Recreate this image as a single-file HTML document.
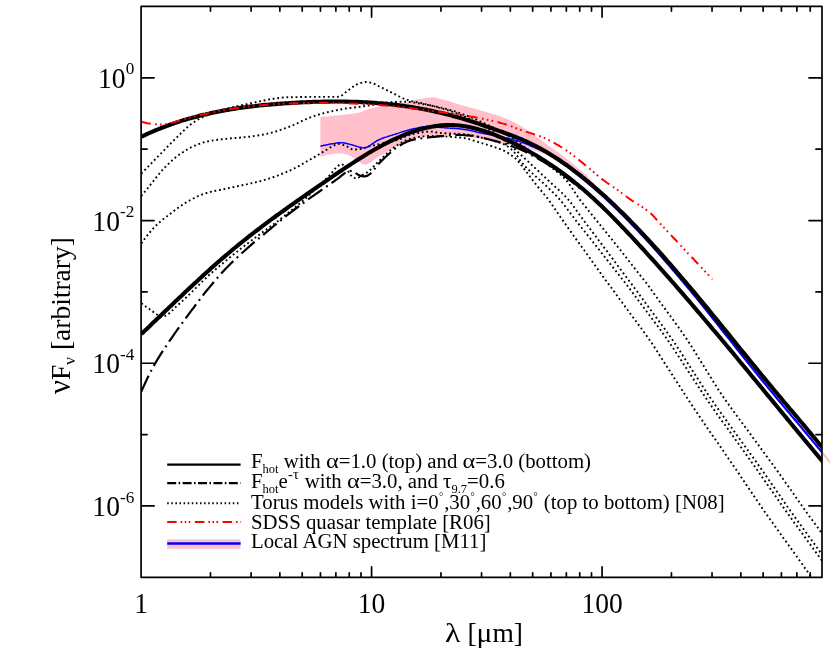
<!DOCTYPE html>
<html><head><meta charset="utf-8"><title>SED plot</title>
<style>html,body{margin:0;padding:0;background:#fff;overflow:hidden;}svg{display:block;will-change:transform;}</style>
</head><body>
<svg width="830" height="664" viewBox="0 0 830 664">
<rect x="0" y="0" width="830" height="664" fill="#fff"/>
<path d="M320.4,116.9 L322.4,116.7 L324.4,116.5 L326.4,116.4 L328.4,116.2 L330.4,116.0 L332.4,115.8 L334.4,115.6 L336.4,115.4 L338.4,115.2 L340.4,115.0 L342.5,114.8 L344.5,114.6 L346.5,114.4 L348.5,114.2 L350.5,114.0 L352.5,113.7 L354.5,113.5 L356.5,113.2 L358.5,112.8 L360.5,112.2 L362.5,111.5 L364.5,110.6 L366.5,109.8 L368.5,109.0 L370.5,108.3 L372.5,107.8 L374.5,107.4 L376.5,107.0 L378.5,106.6 L380.5,106.2 L382.5,105.9 L384.5,105.6 L386.6,105.3 L388.6,105.0 L390.6,104.7 L392.6,104.5 L394.6,104.3 L396.6,104.1 L398.6,103.9 L400.6,103.6 L402.6,103.3 L404.6,103.0 L406.6,102.6 L408.6,101.9 L410.6,101.1 L412.6,100.4 L414.6,99.8 L416.6,99.3 L418.6,99.0 L420.6,98.7 L422.6,98.4 L424.6,98.1 L426.6,97.8 L428.7,97.6 L430.7,97.4 L432.7,97.3 L434.7,97.4 L436.7,97.8 L438.7,98.4 L440.7,98.9 L442.7,99.4 L444.7,99.9 L446.7,100.5 L448.7,101.1 L450.7,101.8 L452.7,102.4 L454.7,103.1 L456.7,103.7 L458.7,104.3 L460.7,104.9 L462.7,105.5 L464.7,106.1 L466.7,106.6 L468.7,107.1 L470.8,107.7 L472.8,108.2 L474.8,108.8 L476.8,109.3 L478.8,109.9 L480.8,110.4 L482.8,111.0 L484.8,111.6 L486.8,112.2 L488.8,112.8 L490.8,113.4 L492.8,114.0 L494.8,114.6 L496.8,115.3 L498.8,115.9 L500.8,116.6 L502.8,117.4 L504.8,118.1 L506.8,118.9 L508.8,119.8 L510.8,120.7 L512.8,121.7 L514.9,122.7 L516.9,123.8 L518.9,124.9 L520.9,126.0 L522.9,127.2 L524.9,128.4 L526.9,129.7 L528.9,131.0 L530.9,132.4 L532.9,133.9 L534.9,135.4 L536.9,136.9 L538.9,138.5 L540.9,140.0 L542.9,141.5 L544.9,143.0 L546.9,144.5 L548.9,145.9 L550.9,147.3 L552.9,148.7 L554.9,150.2 L557.0,151.6 L559.0,153.1 L561.0,154.5 L563.0,156.0 L565.0,157.6 L567.0,159.1 L569.0,160.7 L571.0,162.3 L573.0,163.9 L575.0,165.5 L577.0,167.1 L579.0,168.8 L581.0,170.5 L583.0,172.2 L585.0,174.1 L587.0,175.9 L589.0,177.8 L591.0,179.9 L593.0,182.1 L595.0,184.5 L597.0,186.9 L599.0,189.4 L601.1,191.9 L603.1,194.2 L605.1,196.4 L607.1,198.3 L609.1,200.2 L611.1,202.1 L613.1,204.0 L615.1,205.9 L617.1,207.9 L619.1,209.8 L621.1,211.8 L623.1,213.8 L625.1,215.8 L627.1,217.9 L629.1,219.9 L631.1,222.0 L633.1,224.0 L635.1,226.1 L637.1,228.2 L639.1,230.4 L641.1,232.5 L643.2,234.6 L645.2,236.8 L647.2,239.0 L649.2,241.2 L651.2,243.4 L653.2,245.6 L655.2,247.9 L657.2,250.1 L659.2,252.4 L661.2,254.7 L663.2,257.0 L665.2,259.3 L667.2,261.6 L669.2,263.9 L671.2,266.3 L673.2,268.6 L675.2,271.0 L677.2,273.3 L679.2,275.7 L681.2,278.1 L683.2,280.5 L685.2,282.9 L687.3,285.3 L689.3,287.7 L691.3,290.2 L693.3,292.6 L695.3,295.0 L697.3,297.5 L699.3,300.0 L701.3,302.4 L703.3,304.9 L705.3,307.4 L707.3,309.9 L709.3,312.4 L711.3,315.0 L713.3,317.5 L715.3,320.0 L717.3,322.5 L719.3,325.0 L721.3,327.6 L723.3,330.1 L725.3,332.6 L727.3,335.1 L729.4,337.7 L731.4,340.2 L733.4,342.7 L735.4,345.3 L737.4,347.8 L739.4,350.3 L741.4,352.8 L743.4,355.4 L745.4,357.9 L747.4,360.4 L749.4,362.9 L751.4,365.4 L753.4,367.9 L755.4,370.4 L757.4,372.8 L759.4,375.3 L761.4,377.8 L763.4,380.3 L765.4,382.7 L767.4,385.2 L769.4,387.6 L771.5,390.1 L773.5,392.5 L775.5,395.0 L777.5,397.4 L779.5,399.8 L781.5,402.1 L783.5,404.5 L785.5,406.9 L787.5,409.3 L789.5,411.7 L791.5,414.1 L793.5,416.5 L795.5,418.8 L797.5,421.2 L799.5,423.6 L801.5,426.0 L803.5,428.4 L805.5,430.8 L807.5,433.2 L809.5,435.6 L811.5,438.0 L813.5,440.4 L815.6,442.8 L817.6,445.3 L819.6,447.7 L821.6,450.1 L823.6,452.6 L825.6,455.0 L827.6,457.5 L829.6,459.9 L831.6,462.4 L833.6,464.9 L835.6,467.4 L835.6,470.8 L833.6,468.3 L831.6,465.8 L829.6,463.3 L827.6,460.9 L825.6,458.4 L823.6,456.0 L821.6,453.5 L819.6,451.1 L817.6,448.7 L815.6,446.2 L813.5,443.8 L811.5,441.4 L809.5,439.0 L807.5,436.6 L805.5,434.2 L803.5,431.8 L801.5,429.4 L799.5,427.0 L797.5,424.6 L795.5,422.2 L793.5,419.9 L791.5,417.5 L789.5,415.1 L787.5,412.7 L785.5,410.3 L783.5,407.9 L781.5,405.5 L779.5,403.2 L777.5,400.8 L775.5,398.4 L773.5,395.9 L771.5,393.5 L769.4,391.0 L767.4,388.6 L765.4,386.1 L763.4,383.7 L761.4,381.2 L759.4,378.7 L757.4,376.2 L755.4,373.8 L753.4,371.3 L751.4,368.8 L749.4,366.3 L747.4,363.8 L745.4,361.3 L743.4,358.8 L741.4,356.2 L739.4,353.7 L737.4,351.2 L735.4,348.7 L733.4,346.1 L731.4,343.6 L729.4,341.1 L727.3,338.5 L725.3,336.0 L723.3,333.5 L721.3,331.0 L719.3,328.4 L717.3,325.9 L715.3,323.4 L713.3,320.9 L711.3,318.4 L709.3,315.8 L707.3,313.3 L705.3,310.8 L703.3,308.3 L701.3,305.8 L699.3,303.4 L697.3,300.9 L695.3,298.4 L693.3,296.0 L691.3,293.6 L689.3,291.1 L687.3,288.7 L685.2,286.3 L683.2,283.9 L681.2,281.5 L679.2,279.1 L677.2,276.7 L675.2,274.4 L673.2,272.0 L671.2,269.7 L669.2,267.3 L667.2,265.0 L665.2,262.7 L663.2,260.4 L661.2,258.1 L659.2,255.8 L657.2,253.5 L655.2,251.3 L653.2,249.0 L651.2,246.8 L649.2,244.6 L647.2,242.4 L645.2,240.2 L643.2,238.0 L641.1,235.9 L639.1,233.8 L637.1,231.6 L635.1,229.5 L633.1,227.4 L631.1,225.4 L629.1,223.3 L627.1,221.3 L625.1,219.2 L623.1,217.2 L621.1,215.2 L619.1,213.2 L617.1,211.3 L615.1,209.3 L613.1,207.4 L611.1,205.5 L609.1,203.6 L607.1,201.7 L605.1,199.8 L603.1,198.0 L601.1,196.2 L599.0,194.4 L597.0,192.6 L595.0,190.8 L593.0,189.1 L591.0,187.3 L589.0,185.6 L587.0,183.9 L585.0,182.3 L583.0,180.6 L581.0,179.0 L579.0,177.4 L577.0,175.8 L575.0,174.3 L573.0,172.7 L571.0,171.2 L569.0,169.7 L567.0,168.2 L565.0,166.8 L563.0,165.4 L561.0,164.0 L559.0,162.6 L557.0,161.3 L554.9,159.9 L552.9,158.6 L550.9,157.3 L548.9,156.1 L546.9,155.2 L544.9,154.3 L542.9,153.5 L540.9,152.7 L538.9,151.9 L536.9,151.2 L534.9,150.5 L532.9,149.7 L530.9,148.9 L528.9,148.1 L526.9,147.5 L524.9,147.0 L522.9,146.6 L520.9,146.3 L518.9,146.0 L516.9,145.8 L514.9,145.5 L512.8,145.2 L510.8,144.9 L508.8,144.6 L506.8,144.3 L504.8,144.0 L502.8,143.6 L500.8,143.3 L498.8,142.9 L496.8,142.6 L494.8,142.2 L492.8,141.7 L490.8,141.3 L488.8,140.8 L486.8,140.3 L484.8,139.8 L482.8,139.4 L480.8,139.0 L478.8,138.6 L476.8,138.3 L474.8,137.9 L472.8,137.6 L470.8,137.3 L468.7,137.0 L466.7,136.7 L464.7,136.4 L462.7,136.1 L460.7,135.9 L458.7,135.6 L456.7,135.3 L454.7,135.1 L452.7,134.9 L450.7,134.8 L448.7,134.8 L446.7,134.8 L444.7,134.9 L442.7,135.0 L440.7,135.1 L438.7,135.2 L436.7,135.4 L434.7,135.5 L432.7,135.7 L430.7,135.9 L428.7,136.1 L426.6,136.3 L424.6,136.5 L422.6,136.8 L420.6,137.1 L418.6,137.5 L416.6,138.0 L414.6,138.5 L412.6,139.0 L410.6,139.6 L408.6,140.3 L406.6,141.1 L404.6,142.0 L402.6,142.9 L400.6,144.0 L398.6,145.0 L396.6,146.1 L394.6,147.2 L392.6,148.4 L390.6,149.7 L388.6,151.1 L386.6,152.3 L384.5,153.6 L382.5,154.7 L380.5,155.8 L378.5,156.9 L376.5,158.0 L374.5,159.3 L372.5,161.0 L370.5,162.5 L368.5,163.6 L366.5,164.5 L364.5,164.8 L362.5,164.1 L360.5,162.7 L358.5,161.3 L356.5,160.0 L354.5,158.6 L352.5,157.2 L350.5,156.1 L348.5,155.2 L346.5,154.4 L344.5,153.9 L342.5,153.6 L340.4,153.4 L338.4,153.3 L336.4,153.4 L334.4,153.7 L332.4,154.1 L330.4,154.4 L328.4,154.8 L326.4,155.2 L324.4,155.7 L322.4,156.3 L320.4,156.9Z" fill="#ffc0cb"/>
<clipPath id="cp"><rect x="141.1" y="6.45" width="680.9" height="570.9"/></clipPath>
<g clip-path="url(#cp)" fill="none" stroke-linejoin="round">
<path d="M141.3,173.7 L143.3,171.6 L145.3,169.5 L147.3,167.5 L149.3,165.4 L151.3,163.3 L153.3,161.3 L155.3,159.2 L157.3,157.1 L159.3,155.1 L161.3,153.1 L163.3,151.0 L165.3,149.0 L167.3,146.9 L169.3,144.9 L171.3,142.8 L173.3,140.8 L175.3,138.8 L177.3,136.9 L179.3,134.9 L181.3,133.0 L183.3,131.0 L185.3,129.1 L187.3,127.2 L189.3,125.5 L191.3,123.9 L193.3,122.5 L195.3,121.2 L197.3,120.0 L199.3,118.8 L201.3,117.8 L203.3,116.8 L205.3,115.9 L207.3,115.1 L209.3,114.3 L211.3,113.6 L213.3,112.9 L215.3,112.2 L217.3,111.6 L219.3,110.9 L221.3,110.3 L223.3,109.7 L225.3,109.2 L227.3,108.6 L229.3,108.1 L231.3,107.6 L233.3,107.1 L235.3,106.6 L237.3,106.1 L239.3,105.7 L241.3,105.2 L243.3,104.8 L245.3,104.4 L247.3,104.0 L249.3,103.5 L251.3,103.1 L253.3,102.7 L255.3,102.3 L257.3,101.8 L259.3,101.4 L261.3,101.0 L263.3,100.6 L265.3,100.2 L267.3,99.8 L269.3,99.4 L271.3,99.1 L273.3,98.8 L275.3,98.5 L277.3,98.2 L279.3,97.9 L281.3,97.7 L283.3,97.5 L285.3,97.4 L287.3,97.3 L289.3,97.2 L291.3,97.2 L293.3,97.1 L295.3,97.1 L297.3,97.1 L299.3,97.1 L301.3,97.0 L303.3,97.0 L305.3,97.0 L307.3,97.0 L309.3,96.9 L311.3,96.9 L313.3,96.9 L315.3,96.9 L317.3,96.9 L319.3,96.9 L321.3,96.9 L323.3,96.9 L325.3,96.9 L327.3,96.9 L329.3,96.9 L331.3,96.9 L333.3,96.9 L335.3,96.9 L337.3,96.9 L339.3,96.7 L341.3,95.8 L343.3,94.3 L345.3,92.6 L347.3,90.9 L349.3,89.6 L351.3,88.1 L353.3,86.6 L355.3,85.2 L357.3,84.2 L359.3,83.4 L361.3,82.8 L363.3,82.2 L365.3,81.9 L367.3,82.0 L369.3,82.3 L371.3,82.8 L373.3,83.5 L375.3,84.4 L377.3,85.5 L379.3,86.5 L381.3,87.4 L383.3,88.4 L385.3,89.4 L387.3,90.4 L389.3,91.4 L391.3,92.4 L393.3,93.4 L395.3,94.4 L397.3,95.4 L399.3,96.5 L401.3,97.5 L403.3,98.5 L405.3,99.4 L407.3,100.0 L409.3,100.6 L411.3,101.1 L413.3,101.5 L415.3,101.9 L417.3,102.3 L419.3,102.7 L421.3,103.1 L423.3,103.6 L425.3,104.1 L427.3,104.6 L429.3,105.1 L431.3,105.6 L433.3,106.1 L435.3,106.7 L437.3,107.2 L439.3,107.8 L441.3,108.3 L443.3,108.9 L445.3,109.5 L447.3,110.1 L449.3,110.8 L451.3,111.4 L453.3,112.1 L455.3,112.9 L457.3,113.6 L459.3,114.4 L461.3,115.2 L463.3,116.0 L465.3,116.9 L467.3,117.8 L469.3,118.7 L471.3,119.6 L473.3,120.6 L475.3,121.6 L477.3,122.6 L479.3,123.7 L481.3,124.8 L483.3,125.9 L485.3,127.1 L487.3,128.3 L489.3,129.6 L491.3,130.8 L493.3,132.2 L495.3,133.6 L497.3,135.0 L499.3,136.6 L501.3,138.1 L503.3,139.7 L505.3,141.2 L507.3,142.9 L509.3,144.5 L511.3,146.3 L513.3,148.0 L515.3,149.8 L517.3,151.6 L519.3,153.4 L521.3,155.2 L523.3,157.0 L525.3,158.9 L527.3,160.7 L529.3,162.6 L531.3,164.5 L533.3,166.4 L535.3,168.3 L537.3,170.1 L539.3,172.0 L541.3,173.9 L543.3,175.7 L545.3,177.6 L547.3,179.5 L549.3,181.3 L551.3,183.2 L553.3,185.1 L555.3,186.9 L557.3,188.7 L559.3,190.5 L561.3,192.3 L563.3,194.3 L565.3,196.3 L567.3,198.4 L569.3,200.7 L571.3,203.3 L573.3,206.1 L575.3,208.9 L577.3,211.7 L579.3,214.4 L581.3,217.1 L583.3,219.8 L585.3,222.5 L587.3,225.2 L589.3,227.8 L591.3,230.5 L593.3,233.1 L595.3,235.7 L597.3,238.4 L599.3,241.1 L601.3,243.7 L603.3,246.4 L605.3,249.1 L607.3,251.7 L609.3,254.4 L611.3,257.1 L613.3,259.7 L615.3,262.4 L617.3,265.1 L619.3,267.7 L621.3,270.4 L623.3,273.1 L625.3,275.7 L627.3,278.4 L629.3,281.1 L631.3,283.7 L633.3,286.4 L635.3,289.1 L637.3,291.8 L639.3,294.5 L641.3,297.2 L643.3,299.9 L645.3,302.7 L647.3,305.4 L649.3,308.1 L651.3,310.8 L653.3,313.5 L655.3,316.2 L657.3,318.9 L659.3,321.6 L661.3,324.3 L663.3,327.0 L665.3,329.8 L667.3,332.6 L669.3,335.4 L671.3,338.2 L673.3,341.1 L675.3,344.0 L677.3,347.0 L679.3,350.1 L681.3,353.2 L683.3,356.3 L685.3,359.4 L687.3,362.5 L689.3,365.7 L691.3,368.8 L693.3,371.9 L695.3,374.9 L697.3,378.0 L699.3,381.1 L701.3,384.2 L703.3,387.3 L705.3,390.3 L707.3,393.3 L709.3,396.3 L711.3,399.2 L713.3,402.1 L715.3,405.0 L717.3,407.8 L719.3,410.7 L721.3,413.5 L723.3,416.3 L725.3,419.1 L727.3,421.9 L729.3,424.7 L731.3,427.4 L733.3,430.2 L735.3,433.0 L737.3,435.7 L739.3,438.5 L741.3,441.2 L743.3,444.0 L745.3,446.7 L747.3,449.5 L749.3,452.3 L751.3,455.1 L753.3,457.8 L755.3,460.6 L757.3,463.4 L759.3,466.2 L761.3,469.1 L763.3,471.9 L765.3,474.7 L767.3,477.6 L769.3,480.5 L771.3,483.4 L773.3,486.3 L775.3,489.2 L777.3,492.1 L779.3,494.9 L781.3,497.8 L783.3,500.7 L785.3,503.6 L787.3,506.5 L789.3,509.3 L791.3,512.1 L793.3,514.9 L795.3,517.7 L797.3,520.4 L799.3,523.2 L801.3,525.9 L803.3,528.7 L805.3,531.4 L807.3,534.2 L809.3,537.0 L811.3,539.7 L813.3,542.5 L815.3,545.2 L817.3,548.0 L819.3,550.8 L821.3,553.6 L823.3,556.4 L825.3,559.2 L827.3,561.9 L829.3,564.7 L831.3,567.5 L833.3,570.2 L835.3,573.0 L837.3,575.7 L839.3,578.5 L841.3,581.2 L843.3,584.0" stroke="#000" stroke-width="1.9" stroke-dasharray="1.8 2.8"/>
<path d="M141.3,196.0 L143.3,193.6 L145.3,191.1 L147.3,188.7 L149.3,186.2 L151.3,183.7 L153.3,181.2 L155.3,178.6 L157.3,176.1 L159.3,173.6 L161.3,171.2 L163.3,169.0 L165.4,166.9 L167.4,164.9 L169.4,163.0 L171.4,161.1 L173.4,159.3 L175.4,157.6 L177.4,156.1 L179.4,154.6 L181.4,153.2 L183.4,151.9 L185.4,150.6 L187.4,149.4 L189.4,148.3 L191.4,147.2 L193.4,146.3 L195.4,145.5 L197.4,144.6 L199.4,143.8 L201.4,143.1 L203.4,142.5 L205.4,141.9 L207.4,141.5 L209.4,141.1 L211.4,140.7 L213.5,140.4 L215.5,140.1 L217.5,139.8 L219.5,139.6 L221.5,139.3 L223.5,139.1 L225.5,138.9 L227.5,138.7 L229.5,138.5 L231.5,138.3 L233.5,138.2 L235.5,138.0 L237.5,137.8 L239.5,137.7 L241.5,137.5 L243.5,137.3 L245.5,137.1 L247.5,136.9 L249.5,136.7 L251.5,136.4 L253.5,136.1 L255.5,135.8 L257.5,135.5 L259.5,135.2 L261.6,134.9 L263.6,134.5 L265.6,134.1 L267.6,133.6 L269.6,133.2 L271.6,132.6 L273.6,132.1 L275.6,131.5 L277.6,130.9 L279.6,130.2 L281.6,129.5 L283.6,128.8 L285.6,128.1 L287.6,127.4 L289.6,126.6 L291.6,125.9 L293.6,125.0 L295.6,124.1 L297.6,123.2 L299.6,122.2 L301.6,121.2 L303.6,120.2 L305.6,119.3 L307.6,118.5 L309.7,117.7 L311.7,116.9 L313.7,116.2 L315.7,115.5 L317.7,114.9 L319.7,114.3 L321.7,113.7 L323.7,113.2 L325.7,112.7 L327.7,112.2 L329.7,111.7 L331.7,111.3 L333.7,110.8 L335.7,110.4 L337.7,110.0 L339.7,109.6 L341.7,109.2 L343.7,108.8 L345.7,108.5 L347.7,108.3 L349.7,108.0 L351.7,107.8 L353.7,107.6 L355.7,107.3 L357.8,107.1 L359.8,106.8 L361.8,106.5 L363.8,106.2 L365.8,105.9 L367.8,105.7 L369.8,105.3 L371.8,105.0 L373.8,104.7 L375.8,104.3 L377.8,103.8 L379.8,103.4 L381.8,103.0 L383.8,102.7 L385.8,102.5 L387.8,102.4 L389.8,102.3 L391.8,102.2 L393.8,102.1 L395.8,102.0 L397.8,101.9 L399.8,101.9 L401.8,101.8 L403.8,101.8 L405.9,101.8 L407.9,101.9 L409.9,102.0 L411.9,102.2 L413.9,102.5 L415.9,102.8 L417.9,103.2 L419.9,103.6 L421.9,103.9 L423.9,104.3 L425.9,104.7 L427.9,105.0 L429.9,105.4 L431.9,105.8 L433.9,106.2 L435.9,106.6 L437.9,107.0 L439.9,107.5 L441.9,107.9 L443.9,108.4 L445.9,108.9 L447.9,109.4 L449.9,110.0 L451.9,110.6 L454.0,111.2 L456.0,111.8 L458.0,112.5 L460.0,113.2 L462.0,113.9 L464.0,114.7 L466.0,115.4 L468.0,116.2 L470.0,117.0 L472.0,117.8 L474.0,118.6 L476.0,119.5 L478.0,120.4 L480.0,121.3 L482.0,122.2 L484.0,123.1 L486.0,124.1 L488.0,125.0 L490.0,126.0 L492.0,127.0 L494.0,128.0 L496.0,129.1 L498.0,130.1 L500.1,131.2 L502.1,132.3 L504.1,133.5 L506.1,134.6 L508.1,135.8 L510.1,137.0 L512.1,138.3 L514.1,139.6 L516.1,141.0 L518.1,142.4 L520.1,143.8 L522.1,145.2 L524.1,146.7 L526.1,148.1 L528.1,149.6 L530.1,151.1 L532.1,152.6 L534.1,154.1 L536.1,155.6 L538.1,157.1 L540.1,158.6 L542.1,160.2 L544.1,161.8 L546.1,163.3 L548.2,164.9 L550.2,166.5 L552.2,168.1 L554.2,169.7 L556.2,171.2 L558.2,172.8 L560.2,174.4 L562.2,176.1 L564.2,178.0 L566.2,180.1 L568.2,182.6 L570.2,185.4 L572.2,188.3 L574.2,191.4 L576.2,194.5 L578.2,197.4 L580.2,200.2 L582.2,202.7 L584.2,205.2 L586.2,207.7 L588.2,210.2 L590.2,212.7 L592.2,215.2 L594.2,217.7 L596.3,220.2 L598.3,222.7 L600.3,225.2 L602.3,227.6 L604.3,230.1 L606.3,232.5 L608.3,235.0 L610.3,237.5 L612.3,240.0 L614.3,242.5 L616.3,245.0 L618.3,247.5 L620.3,250.0 L622.3,252.5 L624.3,255.1 L626.3,257.6 L628.3,260.2 L630.3,262.7 L632.3,265.3 L634.3,267.8 L636.3,270.4 L638.3,272.9 L640.3,275.5 L642.3,278.0 L644.4,280.6 L646.4,283.1 L648.4,285.8 L650.4,288.6 L652.4,291.4 L654.4,294.2 L656.4,296.9 L658.4,299.7 L660.4,302.5 L662.4,305.2 L664.4,308.0 L666.4,310.7 L668.4,313.5 L670.4,316.2 L672.4,318.9 L674.4,321.7 L676.4,324.4 L678.4,327.1 L680.4,329.9 L682.4,332.8 L684.4,335.7 L686.4,338.6 L688.4,341.6 L690.4,344.7 L692.5,347.9 L694.5,351.2 L696.5,354.5 L698.5,357.7 L700.5,360.9 L702.5,364.1 L704.5,367.3 L706.5,370.6 L708.5,373.8 L710.5,377.1 L712.5,380.3 L714.5,383.5 L716.5,386.7 L718.5,389.9 L720.5,392.9 L722.5,395.8 L724.5,398.7 L726.5,401.5 L728.5,404.3 L730.5,407.1 L732.5,409.9 L734.5,412.6 L736.5,415.4 L738.5,418.1 L740.6,420.9 L742.6,423.6 L744.6,426.3 L746.6,429.0 L748.6,431.7 L750.6,434.4 L752.6,437.1 L754.6,439.8 L756.6,442.6 L758.6,445.3 L760.6,448.0 L762.6,450.8 L764.6,453.5 L766.6,456.2 L768.6,459.0 L770.6,461.7 L772.6,464.4 L774.6,467.2 L776.6,469.9 L778.6,472.7 L780.6,475.5 L782.6,478.3 L784.6,481.2 L786.6,484.1 L788.7,486.9 L790.7,489.8 L792.7,492.7 L794.7,495.5 L796.7,498.4 L798.7,501.2 L800.7,504.1 L802.7,506.9 L804.7,509.8 L806.7,512.5 L808.7,515.3 L810.7,518.0 L812.7,520.7 L814.7,523.5 L816.7,526.2 L818.7,528.9 L820.7,531.7 L822.7,534.4 L824.7,537.1 L826.7,539.9 L828.7,542.7 L830.7,545.4 L832.7,548.2 L834.7,551.0 L836.8,553.7 L838.8,556.5 L840.8,559.3 L842.8,562.0 L844.8,564.7 L846.8,567.5 L848.8,570.2 L850.8,572.9 L852.8,575.7 L854.8,578.5 L856.8,581.2 L858.8,584.0" stroke="#000" stroke-width="1.9" stroke-dasharray="1.8 2.8"/>
<path d="M141.3,243.5 L143.3,240.7 L145.3,238.0 L147.3,235.4 L149.3,232.9 L151.3,230.6 L153.3,228.3 L155.3,226.3 L157.3,224.3 L159.3,222.5 L161.3,220.8 L163.3,219.1 L165.4,217.5 L167.4,216.0 L169.4,214.4 L171.4,212.9 L173.4,211.3 L175.4,209.8 L177.4,208.3 L179.4,206.9 L181.4,205.5 L183.4,204.1 L185.4,202.9 L187.4,201.7 L189.4,200.6 L191.4,199.5 L193.4,198.5 L195.4,197.5 L197.4,196.5 L199.4,195.6 L201.4,194.8 L203.4,194.0 L205.4,193.3 L207.4,192.7 L209.4,192.1 L211.5,191.6 L213.5,191.2 L215.5,190.8 L217.5,190.4 L219.5,190.0 L221.5,189.6 L223.5,189.2 L225.5,188.8 L227.5,188.4 L229.5,187.9 L231.5,187.5 L233.5,187.1 L235.5,186.7 L237.5,186.3 L239.5,185.9 L241.5,185.4 L243.5,185.0 L245.5,184.5 L247.5,184.1 L249.5,183.6 L251.5,183.2 L253.5,182.7 L255.5,182.3 L257.6,181.8 L259.6,181.3 L261.6,180.8 L263.6,180.2 L265.6,179.6 L267.6,179.0 L269.6,178.4 L271.6,177.7 L273.6,177.0 L275.6,176.3 L277.6,175.6 L279.6,174.8 L281.6,174.0 L283.6,173.2 L285.6,172.4 L287.6,171.5 L289.6,170.7 L291.6,169.8 L293.6,168.8 L295.6,167.7 L297.6,166.7 L299.6,165.6 L301.6,164.4 L303.6,163.3 L305.7,162.1 L307.7,160.9 L309.7,159.8 L311.7,158.6 L313.7,157.5 L315.7,156.3 L317.7,155.1 L319.7,153.9 L321.7,152.7 L323.7,151.5 L325.7,150.3 L327.7,149.0 L329.7,147.8 L331.7,146.6 L333.7,145.6 L335.7,144.8 L337.7,144.0 L339.7,143.9 L341.7,144.4 L343.7,145.1 L345.7,145.9 L347.7,146.8 L349.7,148.1 L351.8,149.2 L353.8,149.6 L355.8,149.5 L357.8,149.3 L359.8,149.0 L361.8,148.7 L363.8,148.1 L365.8,147.3 L367.8,146.7 L369.8,146.2 L371.8,145.7 L373.8,145.3 L375.8,144.8 L377.8,144.4 L379.8,144.0 L381.8,143.5 L383.8,143.1 L385.8,142.7 L387.8,142.3 L389.8,141.9 L391.8,141.4 L393.8,141.0 L395.8,140.4 L397.9,139.8 L399.9,139.1 L401.9,138.2 L403.9,137.3 L405.9,136.4 L407.9,135.6 L409.9,134.9 L411.9,134.3 L413.9,133.9 L415.9,133.4 L417.9,133.0 L419.9,132.6 L421.9,132.2 L423.9,131.9 L425.9,131.7 L427.9,131.6 L429.9,131.5 L431.9,131.6 L433.9,131.9 L435.9,132.3 L437.9,132.7 L439.9,133.0 L441.9,133.1 L444.0,133.2 L446.0,133.3 L448.0,133.4 L450.0,133.5 L452.0,133.5 L454.0,133.6 L456.0,133.7 L458.0,133.8 L460.0,133.9 L462.0,134.0 L464.0,134.2 L466.0,134.5 L468.0,134.8 L470.0,135.1 L472.0,135.5 L474.0,135.9 L476.0,136.3 L478.0,136.8 L480.0,137.2 L482.0,137.7 L484.0,138.1 L486.0,138.7 L488.0,139.2 L490.1,139.8 L492.1,140.4 L494.1,141.0 L496.1,141.6 L498.1,142.2 L500.1,142.8 L502.1,143.5 L504.1,144.4 L506.1,145.4 L508.1,146.7 L510.1,148.3 L512.1,150.1 L514.1,152.1 L516.1,154.3 L518.1,157.3 L520.1,160.4 L522.1,163.0 L524.1,165.2 L526.1,167.3 L528.1,169.3 L530.1,171.2 L532.1,173.1 L534.1,175.0 L536.1,176.8 L538.2,178.6 L540.2,180.4 L542.2,182.2 L544.2,184.0 L546.2,185.9 L548.2,187.8 L550.2,189.7 L552.2,191.7 L554.2,193.6 L556.2,195.7 L558.2,197.8 L560.2,200.0 L562.2,202.4 L564.2,205.0 L566.2,207.6 L568.2,210.3 L570.2,212.9 L572.2,215.6 L574.2,218.2 L576.2,220.8 L578.2,223.4 L580.2,226.0 L582.2,228.5 L584.3,231.0 L586.3,233.6 L588.3,236.1 L590.3,238.6 L592.3,241.1 L594.3,243.7 L596.3,246.2 L598.3,248.7 L600.3,251.3 L602.3,253.8 L604.3,256.3 L606.3,258.9 L608.3,261.4 L610.3,264.0 L612.3,266.5 L614.3,269.1 L616.3,271.6 L618.3,274.2 L620.3,276.7 L622.3,279.2 L624.3,281.7 L626.3,284.3 L628.3,287.0 L630.4,289.7 L632.4,292.4 L634.4,295.1 L636.4,297.8 L638.4,300.5 L640.4,303.2 L642.4,305.8 L644.4,308.5 L646.4,311.2 L648.4,313.9 L650.4,316.5 L652.4,319.2 L654.4,321.9 L656.4,324.5 L658.4,327.2 L660.4,329.8 L662.4,332.6 L664.4,335.4 L666.4,338.2 L668.4,341.1 L670.4,344.1 L672.4,347.0 L674.4,350.1 L676.5,353.2 L678.5,356.2 L680.5,359.3 L682.5,362.4 L684.5,365.5 L686.5,368.6 L688.5,371.6 L690.5,374.7 L692.5,377.7 L694.5,380.7 L696.5,383.8 L698.5,386.9 L700.5,389.9 L702.5,392.9 L704.5,395.9 L706.5,398.9 L708.5,401.8 L710.5,404.8 L712.5,407.6 L714.5,410.4 L716.5,413.3 L718.5,416.1 L720.5,418.9 L722.5,421.7 L724.6,424.5 L726.6,427.2 L728.6,430.0 L730.6,432.8 L732.6,435.6 L734.6,438.4 L736.6,441.2 L738.6,444.0 L740.6,446.7 L742.6,449.5 L744.6,452.3 L746.6,455.1 L748.6,457.9 L750.6,460.8 L752.6,463.6 L754.6,466.4 L756.6,469.2 L758.6,472.1 L760.6,474.9 L762.6,477.8 L764.6,480.6 L766.6,483.5 L768.6,486.3 L770.7,489.2 L772.7,492.1 L774.7,495.0 L776.7,497.9 L778.7,500.8 L780.7,503.7 L782.7,506.5 L784.7,509.3 L786.7,512.1 L788.7,514.9 L790.7,517.7 L792.7,520.4 L794.7,523.2 L796.7,525.9 L798.7,528.7 L800.7,531.4 L802.7,534.1 L804.7,536.9 L806.7,539.6 L808.7,542.4 L810.7,545.1 L812.7,547.9 L814.7,550.7 L816.8,553.5 L818.8,556.3 L820.8,559.1 L822.8,561.9 L824.8,564.7 L826.8,567.4 L828.8,570.2 L830.8,572.9 L832.8,575.7 L834.8,578.5 L836.8,581.2 L838.8,584.0" stroke="#000" stroke-width="1.9" stroke-dasharray="1.8 2.8"/>
<path d="M141.3,303.3 L143.3,304.7 L145.3,306.2 L147.3,307.6 L149.3,309.0 L151.3,310.5 L153.3,311.9 L155.3,313.4 L157.3,314.7 L159.3,316.2 L161.3,317.0 L163.3,316.7 L165.3,315.8 L167.3,314.8 L169.3,313.2 L171.3,311.4 L173.3,309.4 L175.4,307.4 L177.4,305.6 L179.4,303.7 L181.4,301.9 L183.4,300.1 L185.4,298.2 L187.4,296.3 L189.4,294.4 L191.4,292.4 L193.4,290.4 L195.4,288.4 L197.4,286.4 L199.4,284.4 L201.4,282.4 L203.4,280.4 L205.4,278.5 L207.4,276.6 L209.4,274.8 L211.4,273.0 L213.4,271.3 L215.4,269.5 L217.4,267.8 L219.4,266.1 L221.4,264.4 L223.4,262.8 L225.4,261.1 L227.4,259.5 L229.4,257.8 L231.4,256.2 L233.4,254.6 L235.4,252.9 L237.4,251.4 L239.4,249.8 L241.4,248.2 L243.5,246.6 L245.5,245.1 L247.5,243.6 L249.5,242.0 L251.5,240.5 L253.5,239.0 L255.5,237.5 L257.5,236.1 L259.5,234.6 L261.5,233.1 L263.5,231.6 L265.5,230.1 L267.5,228.7 L269.5,227.2 L271.5,225.8 L273.5,224.3 L275.5,222.9 L277.5,221.4 L279.5,219.9 L281.5,218.3 L283.5,216.7 L285.5,215.1 L287.5,213.5 L289.5,211.9 L291.5,210.3 L293.5,208.6 L295.5,207.0 L297.5,205.4 L299.5,203.7 L301.5,202.0 L303.5,200.3 L305.5,198.5 L307.5,196.7 L309.5,194.8 L311.6,192.8 L313.6,190.7 L315.6,188.8 L317.6,186.8 L319.6,184.9 L321.6,183.0 L323.6,181.1 L325.6,179.3 L327.6,177.4 L329.6,175.4 L331.6,173.0 L333.6,170.5 L335.6,168.1 L337.6,166.1 L339.6,164.7 L341.6,164.1 L343.6,165.1 L345.6,167.7 L347.6,170.5 L349.6,173.5 L351.6,176.5 L353.6,177.8 L355.6,178.1 L357.6,178.2 L359.6,177.0 L361.6,175.3 L363.6,174.3 L365.6,173.3 L367.6,172.1 L369.6,170.5 L371.6,168.6 L373.6,166.5 L375.6,164.3 L377.7,162.4 L379.7,160.4 L381.7,158.4 L383.7,156.5 L385.7,154.6 L387.7,152.8 L389.7,151.0 L391.7,149.3 L393.7,147.6 L395.7,146.2 L397.7,144.9 L399.7,143.7 L401.7,142.5 L403.7,141.4 L405.7,140.4 L407.7,139.6 L409.7,138.9 L411.7,138.4 L413.7,138.0 L415.7,137.6 L417.7,137.2 L419.7,136.9 L421.7,136.6 L423.7,136.4 L425.7,136.2 L427.7,136.0 L429.7,136.0 L431.7,136.0 L433.7,136.1 L435.7,136.1 L437.7,136.2 L439.7,136.3 L441.7,136.4 L443.7,136.5 L445.8,136.5 L447.8,136.6 L449.8,136.8 L451.8,136.9 L453.8,137.0 L455.8,137.2 L457.8,137.3 L459.8,137.5 L461.8,137.7 L463.8,138.0 L465.8,138.4 L467.8,138.8 L469.8,139.4 L471.8,140.0 L473.8,140.6 L475.8,141.3 L477.8,141.9 L479.8,142.6 L481.8,143.2 L483.8,143.8 L485.8,144.4 L487.8,145.0 L489.8,145.6 L491.8,146.2 L493.8,146.9 L495.8,147.6 L497.8,148.3 L499.8,149.0 L501.8,149.8 L503.8,150.7 L505.8,151.7 L507.8,152.9 L509.8,154.2 L511.8,155.6 L513.9,157.2 L515.9,158.9 L517.9,160.9 L519.9,163.3 L521.9,165.9 L523.9,168.6 L525.9,171.2 L527.9,173.8 L529.9,176.5 L531.9,179.1 L533.9,181.7 L535.9,184.3 L537.9,186.8 L539.9,189.2 L541.9,191.6 L543.9,194.0 L545.9,196.4 L547.9,198.9 L549.9,201.6 L551.9,204.5 L553.9,207.5 L555.9,210.4 L557.9,213.3 L559.9,216.2 L561.9,219.1 L563.9,221.9 L565.9,224.8 L567.9,227.6 L569.9,230.4 L571.9,233.2 L573.9,236.1 L575.9,238.9 L577.9,241.7 L579.9,244.4 L582.0,247.2 L584.0,250.0 L586.0,252.8 L588.0,255.6 L590.0,258.4 L592.0,261.2 L594.0,264.0 L596.0,266.8 L598.0,269.6 L600.0,272.4 L602.0,275.1 L604.0,277.9 L606.0,280.6 L608.0,283.3 L610.0,286.0 L612.0,288.7 L614.0,291.4 L616.0,294.1 L618.0,296.8 L620.0,299.6 L622.0,302.3 L624.0,305.0 L626.0,307.8 L628.0,310.5 L630.0,313.2 L632.0,315.9 L634.0,318.6 L636.0,321.3 L638.0,324.0 L640.0,326.7 L642.0,329.4 L644.0,332.2 L646.0,335.0 L648.1,337.8 L650.1,340.7 L652.1,343.6 L654.1,346.6 L656.1,349.7 L658.1,352.8 L660.1,356.0 L662.1,359.1 L664.1,362.2 L666.1,365.3 L668.1,368.4 L670.1,371.5 L672.1,374.6 L674.1,377.7 L676.1,380.8 L678.1,383.9 L680.1,387.0 L682.1,390.1 L684.1,393.2 L686.1,396.3 L688.1,399.4 L690.1,402.5 L692.1,405.5 L694.1,408.5 L696.1,411.5 L698.1,414.4 L700.1,417.4 L702.1,420.3 L704.1,423.2 L706.1,426.2 L708.1,429.1 L710.1,432.0 L712.1,434.9 L714.1,437.8 L716.2,440.7 L718.2,443.5 L720.2,446.4 L722.2,449.3 L724.2,452.2 L726.2,455.2 L728.2,458.1 L730.2,461.0 L732.2,464.0 L734.2,466.9 L736.2,469.8 L738.2,472.7 L740.2,475.7 L742.2,478.6 L744.2,481.6 L746.2,484.6 L748.2,487.6 L750.2,490.5 L752.2,493.4 L754.2,496.4 L756.2,499.3 L758.2,502.2 L760.2,505.2 L762.2,508.1 L764.2,511.0 L766.2,513.9 L768.2,516.7 L770.2,519.5 L772.2,522.2 L774.2,525.0 L776.2,527.9 L778.2,530.7 L780.2,533.5 L782.2,536.4 L784.3,539.2 L786.3,541.9 L788.3,544.7 L790.3,547.5 L792.3,550.3 L794.3,553.1 L796.3,555.9 L798.3,558.7 L800.3,561.5 L802.3,564.3 L804.3,567.2 L806.3,570.0 L808.3,572.8 L810.3,575.6 L812.3,578.4 L814.3,581.2 L816.3,584.0" stroke="#000" stroke-width="1.9" stroke-dasharray="1.8 2.8"/>
<path d="M320.4,146.3 L322.4,145.8 L324.4,145.3 L326.4,144.9 L328.4,144.5 L330.4,144.1 L332.4,143.7 L334.4,143.4 L336.4,143.0 L338.4,142.8 L340.4,142.7 L342.5,142.8 L344.5,143.1 L346.5,143.5 L348.5,143.9 L350.5,144.5 L352.5,145.0 L354.5,145.6 L356.5,146.3 L358.5,146.9 L360.5,147.3 L362.5,147.7 L364.5,147.9 L366.5,147.5 L368.5,146.3 L370.5,145.1 L372.5,143.7 L374.5,142.3 L376.5,141.0 L378.5,140.0 L380.5,139.1 L382.5,138.3 L384.5,137.5 L386.6,136.9 L388.6,136.2 L390.6,135.6 L392.6,135.0 L394.6,134.4 L396.6,133.7 L398.6,133.1 L400.6,132.4 L402.6,131.8 L404.6,131.2 L406.6,130.6 L408.6,130.0 L410.6,129.5 L412.6,129.1 L414.6,128.6 L416.6,128.2 L418.6,127.7 L420.6,127.3 L422.6,127.0 L424.6,126.7 L426.6,126.5 L428.7,126.3 L430.7,126.3 L432.7,126.4 L434.7,126.7 L436.7,127.0 L438.7,127.3 L440.7,127.5 L442.7,127.6 L444.7,127.8 L446.7,127.9 L448.7,128.1 L450.7,128.2 L452.7,128.3 L454.7,128.5 L456.7,128.6 L458.7,128.8 L460.7,129.0 L462.7,129.2 L464.7,129.5 L466.7,129.8 L468.7,130.2 L470.8,130.6 L472.8,131.1 L474.8,131.5 L476.8,132.0 L478.8,132.4 L480.8,132.9 L482.8,133.3 L484.8,133.7 L486.8,134.1 L488.8,134.4 L490.8,134.8 L492.8,135.2 L494.8,135.6 L496.8,136.0 L498.8,136.4 L500.8,136.8 L502.8,137.2 L504.8,137.7 L506.8,138.1 L508.8,138.6 L510.8,139.1 L512.8,139.6 L514.9,140.2 L516.9,140.8 L518.9,141.4 L520.9,142.1 L522.9,142.7 L524.9,143.4 L526.9,144.2 L528.9,144.9 L530.9,145.7" stroke="#0000ff" stroke-width="1.5"/>
<path d="M528.9,144.9 L530.9,145.7 L532.9,146.5 L534.9,147.4 L536.9,148.2 L538.9,149.1 L540.9,150.1 L542.9,151.0 L544.9,152.0 L546.9,153.1 L548.9,154.4 L550.9,155.7 L552.9,156.9 L554.9,158.2 L557.0,159.6 L559.0,160.9 L561.0,162.3 L563.0,163.7 L565.0,165.1 L567.0,166.5 L569.0,168.0 L571.0,169.5 L573.0,171.0 L575.0,172.6 L577.0,174.1 L579.0,175.7 L581.0,177.3 L583.0,178.9 L585.0,180.6 L587.0,182.2 L589.0,183.9 L591.0,185.6 L593.0,187.4 L595.0,189.1 L597.0,190.9 L599.0,192.7 L601.1,194.5 L603.1,196.3 L605.1,198.1 L607.1,200.0 L609.1,201.9 L611.1,203.8 L613.1,205.7 L615.1,207.6 L617.1,209.6 L619.1,211.5 L621.1,213.5 L623.1,215.5 L625.1,217.5 L627.1,219.6 L629.1,221.6 L631.1,223.7 L633.1,225.7 L635.1,227.8 L637.1,229.9 L639.1,232.1 L641.1,234.2 L643.2,236.3 L645.2,238.5 L647.2,240.7 L649.2,242.9 L651.2,245.1 L653.2,247.3 L655.2,249.6 L657.2,251.8 L659.2,254.1 L661.2,256.4 L663.2,258.7 L665.2,261.0 L667.2,263.3 L669.2,265.6 L671.2,268.0 L673.2,270.3 L675.2,272.7 L677.2,275.0 L679.2,277.4 L681.2,279.8 L683.2,282.2 L685.2,284.6 L687.3,287.0 L689.3,289.4 L691.3,291.9 L693.3,294.3 L695.3,296.7 L697.3,299.2 L699.3,301.7 L701.3,304.1 L703.3,306.6 L705.3,309.1 L707.3,311.6 L709.3,314.1 L711.3,316.7 L713.3,319.2 L715.3,321.7 L717.3,324.2 L719.3,326.7 L721.3,329.3 L723.3,331.8 L725.3,334.3 L727.3,336.8 L729.4,339.4 L731.4,341.9 L733.4,344.4 L735.4,347.0 L737.4,349.5 L739.4,352.0 L741.4,354.5 L743.4,357.1 L745.4,359.6 L747.4,362.1 L749.4,364.6 L751.4,367.1 L753.4,369.6 L755.4,372.1 L757.4,374.5 L759.4,377.0 L761.4,379.5 L763.4,382.0 L765.4,384.4 L767.4,386.9 L769.4,389.3 L771.5,391.8 L773.5,394.2 L775.5,396.7 L777.5,399.1 L779.5,401.5 L781.5,403.8 L783.5,406.2 L785.5,408.6 L787.5,411.0 L789.5,413.4 L791.5,415.8 L793.5,418.2 L795.5,420.5 L797.5,422.9 L799.5,425.3 L801.5,427.7 L803.5,430.1 L805.5,432.5 L807.5,434.9 L809.5,437.3 L811.5,439.7 L813.5,442.1 L815.6,444.5 L817.6,447.0 L819.6,449.4 L821.6,451.8 L823.6,454.3 L825.6,456.7 L827.6,459.2 L829.6,461.6 L831.6,464.1 L833.6,466.6 L835.6,469.1" stroke="#0000ff" stroke-width="2.1"/>
<path d="M141.3,136.7 L143.3,135.8 L145.3,134.8 L147.3,133.9 L149.3,133.0 L151.3,132.2 L153.3,131.3 L155.3,130.4 L157.3,129.6 L159.3,128.8 L161.3,128.0 L163.3,127.2 L165.3,126.5 L167.3,125.7 L169.3,125.0 L171.3,124.3 L173.3,123.6 L175.3,122.9 L177.3,122.2 L179.3,121.6 L181.3,120.9 L183.3,120.3 L185.3,119.7 L187.3,119.1 L189.3,118.5 L191.4,118.0 L193.4,117.4 L195.4,116.9 L197.4,116.4 L199.4,115.8 L201.4,115.3 L203.4,114.8 L205.4,114.4 L207.4,113.9 L209.4,113.5 L211.4,113.0 L213.4,112.6 L215.4,112.2 L217.4,111.8 L219.4,111.4 L221.4,111.0 L223.4,110.6 L225.4,110.3 L227.4,109.9 L229.4,109.6 L231.4,109.2 L233.4,108.9 L235.4,108.6 L237.4,108.3 L239.4,108.0 L241.4,107.7 L243.4,107.4 L245.4,107.2 L247.4,106.9 L249.4,106.7 L251.4,106.4 L253.4,106.2 L255.4,106.0 L257.4,105.7 L259.4,105.5 L261.4,105.3 L263.4,105.1 L265.4,104.9 L267.4,104.7 L269.4,104.6 L271.4,104.4 L273.4,104.2 L275.4,104.1 L277.4,103.9 L279.4,103.8 L281.4,103.6 L283.4,103.5 L285.4,103.3 L287.4,103.2 L289.4,103.1 L291.5,103.0 L293.5,102.8 L295.5,102.7 L297.5,102.6 L299.5,102.5 L301.5,102.4 L303.5,102.3 L305.5,102.2 L307.5,102.1 L309.5,102.1 L311.5,102.0 L313.5,101.9 L315.5,101.8 L317.5,101.8 L319.5,101.7 L321.5,101.7 L323.5,101.6 L325.5,101.6 L327.5,101.6 L329.5,101.6 L331.5,101.5 L333.5,101.5 L335.5,101.5 L337.5,101.5 L339.5,101.5 L341.5,101.5 L343.5,101.6 L345.5,101.6 L347.5,101.6 L349.5,101.7 L351.5,101.7 L353.5,101.8 L355.5,101.8 L357.5,101.9 L359.5,102.0 L361.5,102.1 L363.5,102.2 L365.5,102.3 L367.5,102.4 L369.5,102.5 L371.5,102.6 L373.5,102.8 L375.5,102.9 L377.5,103.1 L379.5,103.2 L381.5,103.4 L383.5,103.6 L385.5,103.8 L387.5,104.0 L389.5,104.2 L391.6,104.4 L393.6,104.6 L395.6,104.9 L397.6,105.1 L399.6,105.4 L401.6,105.6 L403.6,105.9 L405.6,106.2 L407.6,106.5 L409.6,106.8 L411.6,107.1 L413.6,107.4 L415.6,107.8 L417.6,108.1 L419.6,108.5 L421.6,108.8 L423.6,109.2 L425.6,109.6 L427.6,110.0 L429.6,110.4 L431.6,110.8 L433.6,111.3 L435.6,111.7 L437.6,112.2 L439.6,112.6 L441.6,113.1 L443.6,113.6 L445.6,114.1 L447.6,114.6 L449.6,115.1 L451.6,115.6 L453.6,116.2 L455.6,116.7 L457.6,117.3 L459.6,117.8 L461.6,118.4 L463.6,119.0 L465.6,119.6 L467.6,120.2 L469.6,120.9 L471.6,121.5 L473.6,122.1 L475.6,122.8 L477.6,123.4 L479.6,124.1 L481.6,124.8 L483.6,125.5 L485.6,126.2 L487.6,126.8 L489.6,127.5 L491.7,128.2 L493.7,129.0 L495.7,129.7 L497.7,130.4 L499.7,131.1 L501.7,131.8 L503.7,132.5 L505.7,133.3 L507.7,134.0 L509.7,134.7 L511.7,135.4 L513.7,136.2 L515.7,137.0 L517.7,137.8 L519.7,138.6 L521.7,139.4 L523.7,140.3 L525.7,141.1 L527.7,142.1 L529.7,143.0 L531.7,144.0 L533.7,145.0 L535.7,146.0 L537.7,147.1 L539.7,148.1 L541.7,149.2 L543.7,150.4 L545.7,151.5 L547.7,152.7 L549.7,153.9 L551.7,155.2 L553.7,156.4 L555.7,157.7 L557.7,159.0 L559.7,160.3 L561.7,161.7 L563.7,163.1 L565.7,164.5 L567.7,165.9 L569.7,167.4 L571.7,168.8 L573.7,170.3 L575.7,171.9 L577.7,173.4 L579.7,175.0 L581.7,176.5 L583.7,178.1 L585.7,179.8 L587.7,181.4 L589.7,183.1 L591.8,184.8 L593.8,186.5 L595.8,188.2 L597.8,189.9 L599.8,191.7 L601.8,193.5 L603.8,195.3 L605.8,197.1 L607.8,199.0 L609.8,200.8 L611.8,202.7 L613.8,204.6 L615.8,206.5 L617.8,208.4 L619.8,210.4 L621.8,212.3 L623.8,214.3 L625.8,216.3 L627.8,218.3 L629.8,220.3 L631.8,222.4 L633.8,224.4 L635.8,226.5 L637.8,228.6 L639.8,230.7 L641.8,232.8 L643.8,234.9 L645.8,237.1 L647.8,239.2 L649.8,241.4 L651.8,243.6 L653.8,245.8 L655.8,248.0 L657.8,250.2 L659.8,252.4 L661.8,254.7 L663.8,256.9 L665.8,259.2 L667.8,261.5 L669.8,263.7 L671.8,266.0 L673.8,268.4 L675.8,270.7 L677.8,273.0 L679.8,275.3 L681.8,277.7 L683.8,280.0 L685.8,282.4 L687.8,284.8 L689.8,287.1 L691.9,289.5 L693.9,291.9 L695.9,294.3 L697.9,296.7 L699.9,299.2 L701.9,301.6 L703.9,304.0 L705.9,306.4 L707.9,308.9 L709.9,311.3 L711.9,313.7 L713.9,316.2 L715.9,318.6 L717.9,321.1 L719.9,323.6 L721.9,326.0 L723.9,328.5 L725.9,330.9 L727.9,333.4 L729.9,335.9 L731.9,338.3 L733.9,340.8 L735.9,343.3 L737.9,345.7 L739.9,348.2 L741.9,350.7 L743.9,353.1 L745.9,355.6 L747.9,358.1 L749.9,360.5 L751.9,363.0 L753.9,365.4 L755.9,367.9 L757.9,370.3 L759.9,372.8 L761.9,375.2 L763.9,377.6 L765.9,380.0 L767.9,382.5 L769.9,384.9 L771.9,387.3 L773.9,389.7 L775.9,392.1 L777.9,394.5 L779.9,396.9 L781.9,399.3 L783.9,401.7 L785.9,404.0 L787.9,406.4 L789.9,408.8 L792.0,411.2 L794.0,413.5 L796.0,415.9 L798.0,418.3 L800.0,420.7 L802.0,423.0 L804.0,425.4 L806.0,427.8 L808.0,430.2 L810.0,432.6 L812.0,435.0 L814.0,437.4 L816.0,439.8 L818.0,442.2 L820.0,444.6 L822.0,447.0 L824.0,449.4 L826.0,451.8 L828.0,454.3 L830.0,456.7 L832.0,459.2 L834.0,461.7 L836.0,464.1 L838.0,466.6 L840.0,469.1" stroke="#000" stroke-width="4.1"/>
<path d="M141.3,334.1 L143.3,332.2 L145.3,330.3 L147.3,328.4 L149.3,326.5 L151.3,324.5 L153.3,322.6 L155.3,320.7 L157.3,318.8 L159.3,316.9 L161.3,315.0 L163.3,313.0 L165.3,311.1 L167.3,309.2 L169.3,307.3 L171.3,305.4 L173.3,303.5 L175.3,301.6 L177.3,299.7 L179.3,297.8 L181.3,295.9 L183.3,294.0 L185.3,292.1 L187.3,290.2 L189.3,288.3 L191.3,286.4 L193.3,284.6 L195.3,282.7 L197.3,280.9 L199.3,279.0 L201.3,277.2 L203.3,275.3 L205.3,273.5 L207.3,271.7 L209.3,269.9 L211.3,268.1 L213.3,266.3 L215.3,264.6 L217.3,262.8 L219.3,261.0 L221.3,259.3 L223.3,257.6 L225.3,255.9 L227.3,254.2 L229.3,252.5 L231.3,250.8 L233.3,249.1 L235.3,247.5 L237.3,245.8 L239.3,244.2 L241.3,242.6 L243.3,241.0 L245.3,239.4 L247.3,237.8 L249.3,236.2 L251.3,234.6 L253.3,233.1 L255.3,231.5 L257.4,230.0 L259.4,228.5 L261.4,226.9 L263.4,225.4 L265.4,223.9 L267.4,222.4 L269.4,220.9 L271.4,219.4 L273.4,218.0 L275.4,216.5 L277.4,215.0 L279.4,213.6 L281.4,212.1 L283.4,210.7 L285.4,209.3 L287.4,207.8 L289.4,206.4 L291.4,205.0 L293.4,203.6 L295.4,202.2 L297.4,200.8 L299.4,199.4 L301.4,198.0 L303.4,196.6 L305.4,195.2 L307.4,193.8 L309.4,192.4 L311.4,191.0 L313.4,189.6 L315.4,188.3 L317.4,186.9 L319.4,185.5 L321.4,184.1 L323.4,182.8 L325.4,181.4 L327.4,180.0 L329.4,178.6 L331.4,177.3 L333.4,175.9 L335.4,174.5 L337.4,173.2 L339.4,171.8 L341.4,170.5 L343.4,169.1 L345.4,167.8 L347.4,166.5 L349.4,165.2 L351.4,163.9 L353.4,162.6 L355.4,161.3 L357.4,160.0 L359.4,158.7 L361.4,157.5 L363.4,156.2 L365.4,155.0 L367.4,153.8 L369.4,152.6 L371.4,151.4 L373.4,150.3 L375.4,149.1 L377.4,148.0 L379.4,146.9 L381.4,145.8 L383.4,144.7 L385.4,143.7 L387.4,142.7 L389.4,141.6 L391.4,140.7 L393.4,139.7 L395.4,138.8 L397.4,137.9 L399.4,137.0 L401.4,136.1 L403.4,135.3 L405.4,134.5 L407.4,133.7 L409.4,132.9 L411.4,132.2 L413.4,131.5 L415.4,130.9 L417.4,130.2 L419.4,129.6 L421.4,129.1 L423.4,128.5 L425.4,128.1 L427.4,127.6 L429.4,127.2 L431.4,126.8 L433.4,126.4 L435.4,126.1 L437.4,125.8 L439.4,125.6 L441.4,125.4 L443.4,125.2 L445.4,125.1 L447.4,125.1 L449.4,125.0 L451.4,125.0 L453.4,125.1 L455.4,125.2 L457.4,125.3 L459.4,125.5 L461.4,125.7 L463.4,126.0 L465.4,126.3 L467.4,126.7 L469.4,127.1 L471.4,127.5 L473.4,128.0 L475.4,128.5 L477.4,129.0 L479.4,129.6 L481.4,130.2 L483.4,130.8 L485.4,131.5 L487.5,132.2 L489.5,132.9 L491.5,133.6 L493.5,134.4 L495.5,135.2 L497.5,136.0 L499.5,136.8 L501.5,137.7 L503.5,138.5 L505.5,139.4 L507.5,140.3 L509.5,141.3 L511.5,142.2 L513.5,143.2 L515.5,144.2 L517.5,145.2 L519.5,146.2 L521.5,147.2 L523.5,148.3 L525.5,149.4 L527.5,150.5 L529.5,151.6 L531.5,152.8 L533.5,153.9 L535.5,155.1 L537.5,156.3 L539.5,157.5 L541.5,158.8 L543.5,160.0 L545.5,161.3 L547.5,162.6 L549.5,163.9 L551.5,165.2 L553.5,166.6 L555.5,168.0 L557.5,169.4 L559.5,170.8 L561.5,172.2 L563.5,173.7 L565.5,175.2 L567.5,176.7 L569.5,178.2 L571.5,179.8 L573.5,181.4 L575.5,183.0 L577.5,184.6 L579.5,186.3 L581.5,187.9 L583.5,189.6 L585.5,191.4 L587.5,193.1 L589.5,194.9 L591.5,196.7 L593.5,198.5 L595.5,200.4 L597.5,202.3 L599.5,204.2 L601.5,206.1 L603.5,208.0 L605.5,209.9 L607.5,211.9 L609.5,213.9 L611.5,215.9 L613.5,217.9 L615.5,220.0 L617.5,222.0 L619.5,224.1 L621.5,226.2 L623.5,228.2 L625.5,230.3 L627.5,232.5 L629.5,234.6 L631.5,236.7 L633.5,238.8 L635.5,241.0 L637.5,243.2 L639.5,245.3 L641.5,247.5 L643.5,249.7 L645.5,251.9 L647.5,254.1 L649.5,256.3 L651.5,258.5 L653.5,260.7 L655.5,262.9 L657.5,265.1 L659.5,267.4 L661.5,269.6 L663.5,271.9 L665.5,274.1 L667.5,276.4 L669.5,278.7 L671.5,281.0 L673.5,283.2 L675.5,285.5 L677.5,287.8 L679.5,290.1 L681.5,292.4 L683.5,294.7 L685.5,297.1 L687.5,299.4 L689.5,301.7 L691.5,304.0 L693.5,306.4 L695.5,308.7 L697.5,311.1 L699.5,313.4 L701.5,315.8 L703.5,318.1 L705.5,320.5 L707.5,322.9 L709.5,325.2 L711.5,327.6 L713.5,330.0 L715.6,332.4 L717.6,334.8 L719.6,337.1 L721.6,339.5 L723.6,341.9 L725.6,344.3 L727.6,346.7 L729.6,349.1 L731.6,351.5 L733.6,353.9 L735.6,356.3 L737.6,358.8 L739.6,361.2 L741.6,363.6 L743.6,366.0 L745.6,368.4 L747.6,370.8 L749.6,373.3 L751.6,375.7 L753.6,378.1 L755.6,380.5 L757.6,383.0 L759.6,385.4 L761.6,387.8 L763.6,390.2 L765.6,392.7 L767.6,395.1 L769.6,397.5 L771.6,399.9 L773.6,402.4 L775.6,404.8 L777.6,407.2 L779.6,409.7 L781.6,412.1 L783.6,414.5 L785.6,416.9 L787.6,419.4 L789.6,421.8 L791.6,424.2 L793.6,426.6 L795.6,429.0 L797.6,431.5 L799.6,433.9 L801.6,436.3 L803.6,438.7 L805.6,441.1 L807.6,443.5 L809.6,445.9 L811.6,448.3 L813.6,450.7 L815.6,453.1 L817.6,455.5 L819.6,457.9 L821.6,460.3 L823.6,462.7 L825.6,465.0 L827.6,467.4 L829.6,469.8" stroke="#000" stroke-width="4.1"/>
<path d="M141.3,391.6 L143.3,387.1 L145.3,382.7 L147.3,378.4 L149.3,374.3 L151.3,370.4 L153.3,366.6 L155.4,363.0 L157.4,359.6 L159.4,356.3 L161.4,353.2 L163.4,350.1 L165.4,347.1 L167.4,344.2 L169.4,341.2 L171.4,338.3 L173.4,335.4 L175.4,332.5 L177.4,329.7 L179.4,326.9 L181.5,324.1 L183.5,321.3 L185.5,318.6 L187.5,315.8 L189.5,313.1 L191.5,310.4 L193.5,307.8 L195.5,305.1 L197.5,302.5 L199.5,299.8 L201.5,297.2 L203.5,294.6 L205.5,292.0 L207.6,289.5 L209.6,287.1 L211.6,284.7 L213.6,282.3 L215.6,279.9 L217.6,277.6 L219.6,275.3 L221.6,273.1 L223.6,270.9 L225.6,268.8 L227.6,266.7 L229.6,264.7 L231.6,262.7 L233.7,260.8 L235.7,258.9 L237.7,257.0 L239.7,255.1 L241.7,253.3 L243.7,251.5 L245.7,249.7 L247.7,247.9 L249.7,246.2 L251.7,244.4 L253.7,242.7 L255.7,241.0 L257.7,239.3 L259.8,237.7 L261.8,236.0 L263.8,234.3 L265.8,232.7 L267.8,231.0 L269.8,229.3 L271.8,227.7 L273.8,226.0 L275.8,224.4 L277.8,222.7 L279.8,221.1 L281.8,219.5 L283.8,217.8 L285.9,216.2 L287.9,214.7 L289.9,213.1 L291.9,211.5 L293.9,210.0 L295.9,208.5 L297.9,207.0 L299.9,205.5 L301.9,204.0 L303.9,202.5 L305.9,201.0 L307.9,199.6 L309.9,198.1 L312.0,196.7 L314.0,195.3 L316.0,193.9 L318.0,192.5 L320.0,191.1 L322.0,189.7 L324.0,188.3 L326.0,186.9 L328.0,185.5 L330.0,184.1 L332.0,182.7 L334.0,181.3 L336.0,179.8 L338.1,178.4 L340.1,176.9 L342.1,175.2 L344.1,173.6 L346.1,172.2 L348.1,171.5 L350.1,171.0 L352.1,170.8 L354.1,171.8 L356.1,173.4 L358.1,174.7 L360.1,175.7 L362.2,176.1 L364.2,176.4 L366.2,176.2 L368.2,175.2 L370.2,173.9 L372.2,172.1 L374.2,169.4 L376.2,166.6 L378.2,164.4 L380.2,162.3 L382.2,160.2 L384.2,158.2 L386.2,156.3 L388.3,154.5 L390.3,152.7 L392.3,150.9 L394.3,149.2 L396.3,147.8 L398.3,146.5 L400.3,145.2 L402.3,144.0 L404.3,142.9 L406.3,141.9 L408.3,141.1 L410.3,140.4 L412.3,139.9 L414.4,139.5 L416.4,139.1 L418.4,138.8 L420.4,138.5 L422.4,138.2 L424.4,138.0 L426.4,137.7 L428.4,137.5 L430.4,137.2 L432.4,137.0 L434.4,136.8 L436.4,136.6 L438.4,136.4 L440.5,136.2 L442.5,136.0 L444.5,135.8 L446.5,135.6 L448.5,135.4 L450.5,135.3 L452.5,135.1 L454.5,135.0 L456.5,134.9 L458.5,134.9 L460.5,135.0 L462.5,135.0 L464.5,135.2 L466.6,135.3 L468.6,135.5 L470.6,135.7 L472.6,135.9 L474.6,136.2 L476.6,136.5 L478.6,136.9 L480.6,137.3 L482.6,137.8 L484.6,138.2 L486.6,138.8 L488.6,139.3 L490.6,139.8 L492.7,140.4 L494.7,140.9 L496.7,141.4 L498.7,142.0 L500.7,142.6 L502.7,143.2 L504.7,143.8 L506.7,144.4 L508.7,145.1 L510.7,145.8 L512.7,146.4 L514.7,147.2 L516.7,147.9 L518.8,148.7 L520.8,149.5 L522.8,150.5 L524.8,151.4 L526.8,152.5 L528.8,153.6 L530.8,154.7 L532.8,155.8 L534.8,156.9 L536.8,158.0 L538.8,159.1 L540.8,160.2 L542.8,161.4 L544.9,162.6 L546.9,163.8 L548.9,165.1 L550.9,166.4 L552.9,167.7 L554.9,169.1 L556.9,170.5 L558.9,172.0 L560.9,173.4 L562.9,174.9 L564.9,176.4 L566.9,177.9 L568.9,179.5 L571.0,181.0 L573.0,182.6 L575.0,184.3 L577.0,185.9 L579.0,187.6 L581.0,189.3 L583.0,191.0" stroke="#000" stroke-width="2.2" stroke-dasharray="17.5 4.6 1.9 4.6"/>
<path d="M141.3,121.6 L143.3,122.2 L145.3,122.7 L147.3,123.2 L149.3,123.5 L151.3,123.8 L153.3,124.1 L155.3,124.2 L157.3,124.3 L159.3,124.4 L161.3,124.4 L163.3,124.4 L165.4,124.3 L167.4,124.0 L169.4,123.5 L171.4,122.9 L173.4,122.4 L175.4,121.8 L177.4,121.1 L179.4,120.5 L181.4,119.8 L183.4,119.2 L185.4,118.6 L187.4,118.1 L189.4,117.6 L191.4,117.0 L193.4,116.6 L195.4,116.1 L197.4,115.6 L199.4,115.1 L201.4,114.7 L203.4,114.2 L205.4,113.8 L207.4,113.4 L209.4,113.0 L211.4,112.6 L213.5,112.2 L215.5,111.8 L217.5,111.4 L219.5,111.0 L221.5,110.7 L223.5,110.3 L225.5,109.9 L227.5,109.6 L229.5,109.2 L231.5,108.9 L233.5,108.6 L235.5,108.2 L237.5,107.9 L239.5,107.7 L241.5,107.4 L243.5,107.1 L245.5,106.9 L247.5,106.7 L249.5,106.5 L251.5,106.3 L253.5,106.1 L255.5,105.9 L257.5,105.7 L259.5,105.5 L261.6,105.3 L263.6,105.1 L265.6,104.9 L267.6,104.7 L269.6,104.5 L271.6,104.4 L273.6,104.2 L275.6,104.1 L277.6,104.0 L279.6,103.8 L281.6,103.7 L283.6,103.6 L285.6,103.5 L287.6,103.5 L289.6,103.4 L291.6,103.4 L293.6,103.3 L295.6,103.3 L297.6,103.2 L299.6,103.2 L301.6,103.1 L303.6,103.1 L305.6,103.0 L307.6,103.0 L309.7,103.0 L311.7,102.9 L313.7,102.9 L315.7,102.9 L317.7,102.9 L319.7,102.8 L321.7,102.8 L323.7,102.8 L325.7,102.8 L327.7,102.8 L329.7,102.8 L331.7,102.8 L333.7,102.8 L335.7,102.9 L337.7,102.9 L339.7,103.0 L341.7,103.1 L343.7,103.1 L345.7,103.2 L347.7,103.3 L349.7,103.4 L351.7,103.5 L353.7,103.6 L355.8,103.7 L357.8,103.8 L359.8,103.9 L361.8,104.0 L363.8,104.1 L365.8,104.2 L367.8,104.3 L369.8,104.5 L371.8,104.6 L373.8,104.7 L375.8,104.8 L377.8,105.0 L379.8,105.1 L381.8,105.2 L383.8,105.4 L385.8,105.6 L387.8,105.7 L389.8,105.9 L391.8,106.1 L393.8,106.2 L395.8,106.4 L397.8,106.6 L399.8,106.8 L401.8,107.0 L403.9,107.2 L405.9,107.4 L407.9,107.7 L409.9,107.9 L411.9,108.2 L413.9,108.4 L415.9,108.7 L417.9,109.0 L419.9,109.3 L421.9,109.5 L423.9,109.8 L425.9,110.1 L427.9,110.4 L429.9,110.6 L431.9,110.9 L433.9,111.2 L435.9,111.5 L437.9,111.7 L439.9,112.0 L441.9,112.3 L443.9,112.6 L445.9,112.9 L447.9,113.1 L449.9,113.4 L452.0,113.7 L454.0,114.0 L456.0,114.2 L458.0,114.5 L460.0,114.8 L462.0,115.1 L464.0,115.4 L466.0,115.7 L468.0,116.0 L470.0,116.4 L472.0,116.7 L474.0,117.1 L476.0,117.4 L478.0,117.8 L480.0,118.2 L482.0,118.6 L484.0,119.0 L486.0,119.5 L488.0,119.9 L490.0,120.3 L492.0,120.8 L494.0,121.3 L496.0,121.8 L498.0,122.3 L500.1,122.8 L502.1,123.4 L504.1,123.9 L506.1,124.5 L508.1,125.2 L510.1,125.9 L512.1,126.6 L514.1,127.4 L516.1,128.2 L518.1,129.0 L520.1,129.7 L522.1,130.4 L524.1,131.1 L526.1,131.8 L528.1,132.4 L530.1,133.0 L532.1,133.6 L534.1,134.3 L536.1,134.9 L538.1,135.6 L540.1,136.3 L542.1,137.1 L544.1,137.9 L546.2,138.8 L548.2,139.8 L550.2,140.8 L552.2,141.8 L554.2,142.9 L556.2,144.1 L558.2,145.2 L560.2,146.5 L562.2,147.7 L564.2,149.0 L566.2,150.3 L568.2,151.6 L570.2,153.1 L572.2,154.6 L574.2,156.1 L576.2,157.7 L578.2,159.3 L580.2,160.9 L582.2,162.6 L584.2,164.2 L586.2,165.9 L588.2,167.6 L590.2,169.2 L592.2,170.9 L594.3,172.6 L596.3,174.4 L598.3,176.1 L600.3,177.8 L602.3,179.4 L604.3,180.8 L606.3,182.3 L608.3,183.7 L610.3,185.0 L612.3,186.4 L614.3,187.7 L616.3,189.1 L618.3,190.5 L620.3,192.0 L622.3,193.5 L624.3,195.0 L626.3,196.5 L628.3,198.0 L630.3,199.4 L632.3,200.8 L634.3,202.0 L636.3,203.3 L638.3,204.5 L640.3,205.8 L642.4,207.1 L644.4,208.5 L646.4,209.9 L648.4,211.4 L650.4,213.0 L652.4,215.0 L654.4,217.2 L656.4,219.5 L658.4,221.7 L660.4,223.8 L662.4,226.0 L664.4,228.1 L666.4,230.2 L668.4,232.4 L670.4,234.5 L672.4,236.7 L674.4,238.8 L676.4,240.9 L678.4,243.1 L680.4,245.2 L682.4,247.4 L684.4,249.5 L686.4,251.6 L688.4,253.8 L690.5,255.9 L692.5,258.0 L694.5,260.2 L696.5,262.3 L698.5,264.4 L700.5,266.6 L702.5,268.7 L704.5,270.8 L706.5,273.0 L708.5,275.1 L710.5,277.2 L712.5,279.3" stroke="#ff0000" stroke-width="2.0" stroke-dasharray="9.7 4.4 1.7 3.2 1.7 3.2 1.7 4.4"/>
</g>
<g stroke="#000" stroke-width="1.7" fill="none" stroke-linecap="round" stroke-linejoin="round">
<rect x="141.1" y="6.45" width="680.9" height="570.9"/>
<path d="M210.48,576.95v-4.199999999999999 M210.48,6.8500000000000005v4.199999999999999 M251.07,576.95v-4.199999999999999 M251.07,6.8500000000000005v4.199999999999999 M279.86,576.95v-4.199999999999999 M279.86,6.8500000000000005v4.199999999999999 M302.20,576.95v-4.199999999999999 M302.20,6.8500000000000005v4.199999999999999 M320.45,576.95v-4.199999999999999 M320.45,6.8500000000000005v4.199999999999999 M335.88,576.95v-4.199999999999999 M335.88,6.8500000000000005v4.199999999999999 M349.24,576.95v-4.199999999999999 M349.24,6.8500000000000005v4.199999999999999 M361.03,576.95v-4.199999999999999 M361.03,6.8500000000000005v4.199999999999999 M371.58,576.95v-10.2 M371.58,6.8500000000000005v10.2 M440.96,576.95v-4.199999999999999 M440.96,6.8500000000000005v4.199999999999999 M481.55,576.95v-4.199999999999999 M481.55,6.8500000000000005v4.199999999999999 M510.34,576.95v-4.199999999999999 M510.34,6.8500000000000005v4.199999999999999 M532.68,576.95v-4.199999999999999 M532.68,6.8500000000000005v4.199999999999999 M550.93,576.95v-4.199999999999999 M550.93,6.8500000000000005v4.199999999999999 M566.36,576.95v-4.199999999999999 M566.36,6.8500000000000005v4.199999999999999 M579.72,576.95v-4.199999999999999 M579.72,6.8500000000000005v4.199999999999999 M591.51,576.95v-4.199999999999999 M591.51,6.8500000000000005v4.199999999999999 M602.06,576.95v-10.2 M602.06,6.8500000000000005v10.2 M671.44,576.95v-4.199999999999999 M671.44,6.8500000000000005v4.199999999999999 M712.03,576.95v-4.199999999999999 M712.03,6.8500000000000005v4.199999999999999 M740.82,576.95v-4.199999999999999 M740.82,6.8500000000000005v4.199999999999999 M763.16,576.95v-4.199999999999999 M763.16,6.8500000000000005v4.199999999999999 M781.41,576.95v-4.199999999999999 M781.41,6.8500000000000005v4.199999999999999 M796.84,576.95v-4.199999999999999 M796.84,6.8500000000000005v4.199999999999999 M810.20,576.95v-4.199999999999999 M810.20,6.8500000000000005v4.199999999999999 M141.5,505.97h12.6 M821.6,505.97h-12.6 M141.5,434.61h5.6 M821.6,434.61h-5.6 M141.5,363.25h12.6 M821.6,363.25h-12.6 M141.5,291.89h5.6 M821.6,291.89h-5.6 M141.5,220.53h12.6 M821.6,220.53h-12.6 M141.5,149.17h5.6 M821.6,149.17h-5.6 M141.5,77.81h12.6 M821.6,77.81h-12.6"/>
</g>
<g font-family="Liberation Serif, serif" fill="#000" font-size="29.3">
<text x="134.4" y="74.4" text-anchor="end" font-size="17.2">0</text>
<text transform="translate(125.6,87.8) scale(0.94,1)" text-anchor="end">10</text>
<text x="134.4" y="217.1" text-anchor="end" font-size="17.2">-2</text>
<text transform="translate(119.9,230.5) scale(0.94,1)" text-anchor="end">10</text>
<text x="134.4" y="359.9" text-anchor="end" font-size="17.2">-4</text>
<text transform="translate(119.9,373.2) scale(0.94,1)" text-anchor="end">10</text>
<text x="134.4" y="502.6" text-anchor="end" font-size="17.2">-6</text>
<text transform="translate(119.9,516.0) scale(0.94,1)" text-anchor="end">10</text>
<text transform="translate(141.1,612.6) scale(0.94,1)" text-anchor="middle">1</text>
<text transform="translate(371.6,612.6) scale(0.94,1)" text-anchor="middle">10</text>
<text transform="translate(602.1,612.6) scale(0.94,1)" text-anchor="middle">100</text>
<text x="484.0" y="642.2" text-anchor="middle" font-size="27.5"><tspan textLength="15.5" lengthAdjust="spacingAndGlyphs">λ</tspan> [<tspan textLength="15.8" lengthAdjust="spacingAndGlyphs">μ</tspan>m]</text>
<text transform="translate(70.0,315.5) rotate(-90)" text-anchor="middle" font-size="27.5"><tspan font-size="30.8">ν</tspan>F<tspan font-size="17" dy="5">ν</tspan><tspan dy="-5"> [arbitrary]</tspan></text>
</g>
<g fill="none">
<path d="M167.2,464.7H240.6" stroke="#000" stroke-width="2.3"/>
<path d="M167.2,483.2H240.6" stroke="#000" stroke-width="2.2" stroke-dasharray="9 2.4 1.6 2.4"/>
<path d="M167.2,503.3H240.6" stroke="#000" stroke-width="2.1" stroke-dasharray="1.5 2.6"/>
<path d="M167.2,522.0H240.6" stroke="#ff0000" stroke-width="2.2" stroke-dasharray="9.5 4 1.6 2.4 1.6 2.4 1.6 4.6"/>
<path d="M167.2,544.0H240.6" stroke="#ffc0cb" stroke-width="9.5"/>
<path d="M167.2,543.5H240.6" stroke="#0000ff" stroke-width="2.5"/>
</g>
<g font-family="Liberation Serif, serif" fill="#000" font-size="20.8">
<text x="251.0" y="468.2">F<tspan font-size="12.5" dy="4.8">hot</tspan><tspan dy="-4.8"> with <tspan textLength="12.8" lengthAdjust="spacingAndGlyphs">α</tspan>=1.0 (top) and <tspan textLength="12.8" lengthAdjust="spacingAndGlyphs">α</tspan>=3.0 (bottom)</tspan></text>
<text x="251.0" y="488.0">F<tspan font-size="12.5" dy="4.8">hot</tspan><tspan dy="-4.8">e</tspan><tspan font-size="14.5" dy="-8.8" dx="0.3">-τ</tspan><tspan dy="8.8" dx="0.8"> with <tspan textLength="12.8" lengthAdjust="spacingAndGlyphs">α</tspan>=3.0, and τ</tspan><tspan font-size="12.5" dy="4.8">9.7</tspan><tspan dy="-4.8">=0.6</tspan></text>
<text x="251.0" y="508.7">Torus models with i=0<tspan font-size="10.5" dy="-8.5" dx="0.4">°</tspan><tspan dy="8.5" dx="0.9">,30</tspan><tspan font-size="10.5" dy="-8.5" dx="0.4">°</tspan><tspan dy="8.5" dx="0.9">,60</tspan><tspan font-size="10.5" dy="-8.5" dx="0.4">°</tspan><tspan dy="8.5" dx="0.9">,90</tspan><tspan font-size="10.5" dy="-8.5" dx="0.4">°</tspan><tspan dy="8.5" dx="0.9"> (top to bottom) [N08]</tspan></text>
<text x="251.0" y="528.5">SDSS quasar template [R06]</text>
<text x="251.0" y="548.4">Local AGN spectrum [M11]</text>
</g>
</svg>
</body></html>
